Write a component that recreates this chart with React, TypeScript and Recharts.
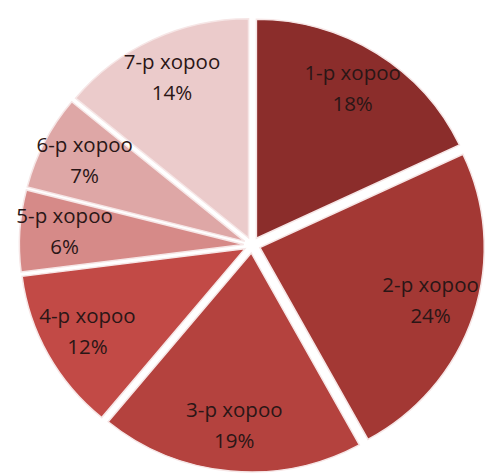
import React from "react";
import { PieChart, Pie, Cell } from "recharts";

const categories = ["1-р хороо", "2-р хороо", "3-р хороо", "4-р хороо", "5-р хороо", "6-р хороо", "7-р хороо"];
const shares = [18, 24, 19, 12, 6, 7, 14];
const colors = ["#8B2D2B", "#A33834", "#B4423E", "#C24A46", "#D68A88", "#DEA7A6", "#EBCBCB"];

const data = categories.map((name, i) => ({ name, value: shares[i] }));
const total = shares.reduce((a, b) => a + b, 0);

const W = 487;
const H = 475;
const CX = 252;
const CY = 245;
const R = 219;
const EXPLODE = 8;
const RAD = Math.PI / 180;

function midAngleOf(i: number) {
  let cum = 0;
  for (let k = 0; k < i; k++) cum += shares[k];
  const frac = (cum + shares[i] / 2) / total;
  return 90 - 360 * frac;
}

export default function App() {
  return (
    <div
      style={{
        position: "absolute",
        left: 0,
        top: 0,
        width: W,
        height: H,
        background: "#fff",
        transform: "scaleX(1.025)",
        transformOrigin: "252px 0px",
      }}
    >
      <PieChart width={W} height={H} margin={{ top: 0, right: 0, bottom: 0, left: 0 }}>
        {data.map((_, idx) => {
          const a = midAngleOf(idx);
          const dx = Math.cos(a * RAD) * EXPLODE;
          const dy = -Math.sin(a * RAD) * EXPLODE;
          const renderLabel = (p: any) => {
            if (p.index !== idx) return null;
            const r = p.outerRadius * 0.8;
            const x = p.cx + Math.cos(-p.midAngle * RAD) * r;
            const y = p.cy + Math.sin(-p.midAngle * RAD) * r;
            return (
              <text
                key={"lbl" + idx}
                x={x}
                y={y}
                textAnchor="middle"
                fill="#2a1616"
                fontFamily="'Open Sans', Lato, sans-serif"
                fontSize={20}
              >
                <tspan x={x} dy={-10}>{categories[idx]}</tspan>
                <tspan x={x} dy={31}>{shares[idx] + "%"}</tspan>
              </text>
            );
          };
          return (
            <Pie
              key={idx}
              data={data}
              dataKey="value"
              nameKey="name"
              cx={CX + dx}
              cy={CY + dy}
              outerRadius={R}
              innerRadius={0}
              startAngle={90}
              endAngle={-270}
              isAnimationActive={false}
              label={renderLabel}
              labelLine={false}
            >
              {data.map((__, j) => (
                <Cell
                  key={j}
                  fill={j === idx ? colors[j] : "none"}
                  stroke={j === idx ? "#f6e6e6" : "none"}
                  strokeWidth={j === idx ? 1.5 : 0}
                />
              ))}
            </Pie>
          );
        })}
      </PieChart>
    </div>
  );
}
